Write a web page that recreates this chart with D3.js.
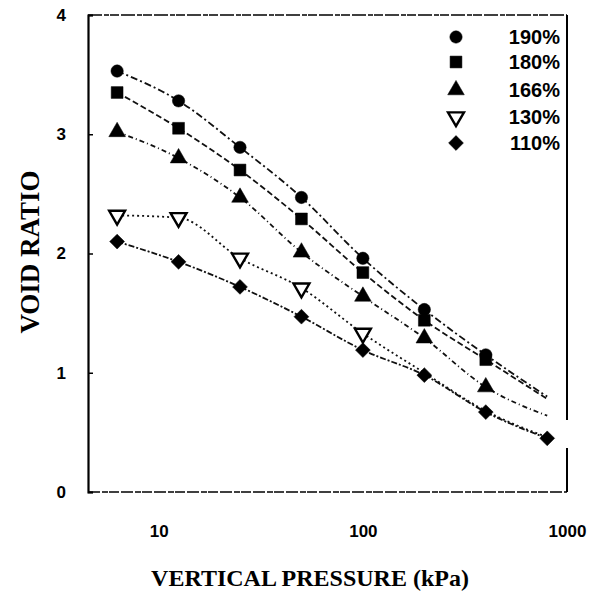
<!DOCTYPE html>
<html>
<head>
<meta charset="utf-8">
<script src="https://cdn.jsdelivr.net/npm/d3@7"></script>
<style>
  html, body { margin: 0; padding: 0; background: #fff; }
  svg { display: block; }
</style>
</head>
<body>
<svg id="chart" width="592" height="592"></svg>
<script>
// ---- data ----
const pressures = [6.25, 12.5, 25, 50, 100, 200, 400, 800];
const seriesNames = ["190%", "180%", "166%", "130%", "110%"];
const voids190 = [3.53, 3.28, 2.89, 2.47, 1.96, 1.53, 1.15, 0.80];
const voids180 = [3.35, 3.05, 2.70, 2.29, 1.84, 1.44, 1.11, 0.78];
const voids166 = [3.02, 2.80, 2.47, 2.01, 1.64, 1.29, 0.88, 0.64];
const voids130 = [2.32, 2.30, 1.96, 1.71, 1.33, 1.00, 0.68, 0.46];
const voids110 = [2.10, 1.93, 1.72, 1.47, 1.19, 0.98, 0.67, 0.45];
const markerCounts = [7, 7, 7, 5, 8];
const yTicks = [0, 1, 2, 3, 4];
const xTicks = [10, 100, 1000];
const xTitle = "VERTICAL PRESSURE (kPa)";
const yTitle = "VOID RATIO";

// ---- layout ----
const svg = d3.select("#chart");
const L = 88, R = 567, T = 15, B = 492;
const x = d3.scaleLog().domain([4.5, 1000]).range([L, R]);
const y = d3.scaleLinear().domain([0, 4]).range([B, T]);

const allSeries = [voids190, voids180, voids166, voids130, voids110];
const shapes = ["circle", "square", "triangle", "invtriangle", "diamond"];
const dashes = ["7,3,2,3", "6,3", "5,3,1,3", "2,3", "6,2,2,2"];

// frame
const frame = svg.append("g");
frame.append("line").attr("x1", L).attr("x2", R).attr("y1", T).attr("y2", T)
  .attr("stroke", "#000").attr("stroke-width", 1.6).attr("stroke-dasharray", "14,2,5,1,9,2");
frame.append("line").attr("x1", L).attr("x2", R).attr("y1", B).attr("y2", B)
  .attr("stroke", "#000").attr("stroke-width", 1.6).attr("stroke-dasharray", "12,2,6,1,10,2");
frame.append("line").attr("x1", R).attr("x2", R).attr("y1", T).attr("y2", B)
  .attr("stroke", "#000").attr("stroke-width", 2).attr("stroke-dasharray", "405,28,200");

// axes
const yAxis = d3.axisLeft(y).tickValues(yTicks).tickFormat(d3.format("d"))
  .tickSize(-5).tickPadding(22);
const gy = svg.append("g").attr("transform", `translate(${L},0)`).call(yAxis);
gy.select(".domain").attr("stroke-width", 2.2);

const xAxis = d3.axisBottom(x).tickValues(xTicks).tickFormat(d3.format("d"))
  .tickSize(0).tickPadding(33);
const gx = svg.append("g").attr("transform", `translate(0,${B})`).call(xAxis);
gx.select(".domain").remove();

svg.selectAll(".tick text")
  .attr("font-family", "'Liberation Sans', Arial, sans-serif")
  .attr("font-weight", "bold").attr("font-size", 17).attr("fill", "#000");
gy.selectAll(".tick line").attr("stroke-width", 1.5);

// titles
svg.append("text").attr("x", 310).attr("y", 586).attr("text-anchor", "middle")
  .attr("font-family", "'Liberation Serif', 'Times New Roman', serif")
  .attr("font-weight", "bold").attr("font-size", 24).text(xTitle);
svg.append("text").attr("transform", "translate(39,252) rotate(-90)")
  .attr("text-anchor", "middle")
  .attr("font-family", "'Liberation Serif', 'Times New Roman', serif")
  .attr("font-weight", "bold").attr("font-size", 27).text(yTitle);

// symbols
function symbolPath(shape) {
  if (shape === "circle") return d3.symbol(d3.symbolCircle, 120)();
  if (shape === "square") return d3.symbol(d3.symbolSquare, 140)();
  if (shape === "triangle") return d3.symbol(d3.symbolTriangle, 120)();
  if (shape === "invtriangle") return d3.symbol(d3.symbolTriangle, 110)();
  return d3.symbol(d3.symbolSquare, 110)();
}
function symbolTransform(shape) {
  if (shape === "invtriangle") return " rotate(180)";
  if (shape === "diamond") return " rotate(45)";
  return "";
}
function drawSymbol(g, shape, cx, cy) {
  g.append("path").attr("d", symbolPath(shape))
    .attr("transform", `translate(${cx},${cy})` + symbolTransform(shape))
    .attr("fill", shape === "invtriangle" ? "#fff" : "#000")
    .attr("stroke", "#000")
    .attr("stroke-width", shape === "invtriangle" ? 2.4 : 0.5);
}

// lines
const line = d3.line().x(d => x(d.p)).y(d => y(d.v)).curve(d3.curveMonotoneX);
allSeries.forEach((vals, i) => {
  const pts = pressures.map((p, j) => ({ p, v: vals[j] }));
  svg.append("path").datum(pts).attr("d", line)
    .attr("fill", "none").attr("stroke", "#111").attr("stroke-width", 1.8)
    .attr("stroke-dasharray", dashes[i]);
});
// markers
allSeries.forEach((vals, i) => {
  const g = svg.append("g");
  pressures.slice(0, markerCounts[i]).forEach((p, j) => {
    drawSymbol(g, shapes[i], x(p), y(vals[j]));
  });
});

// legend
const legendY = [37, 62, 90, 117, 143];
seriesNames.forEach((name, i) => {
  const g = svg.append("g");
  drawSymbol(g, shapes[i], 456, legendY[i]);
  g.append("text").attr("x", 560).attr("y", legendY[i] + 7).attr("text-anchor", "end")
    .attr("font-family", "'Liberation Sans', Arial, sans-serif")
    .attr("font-weight", "bold").attr("font-size", 20).text(name);
});
</script>
</body>
</html>
